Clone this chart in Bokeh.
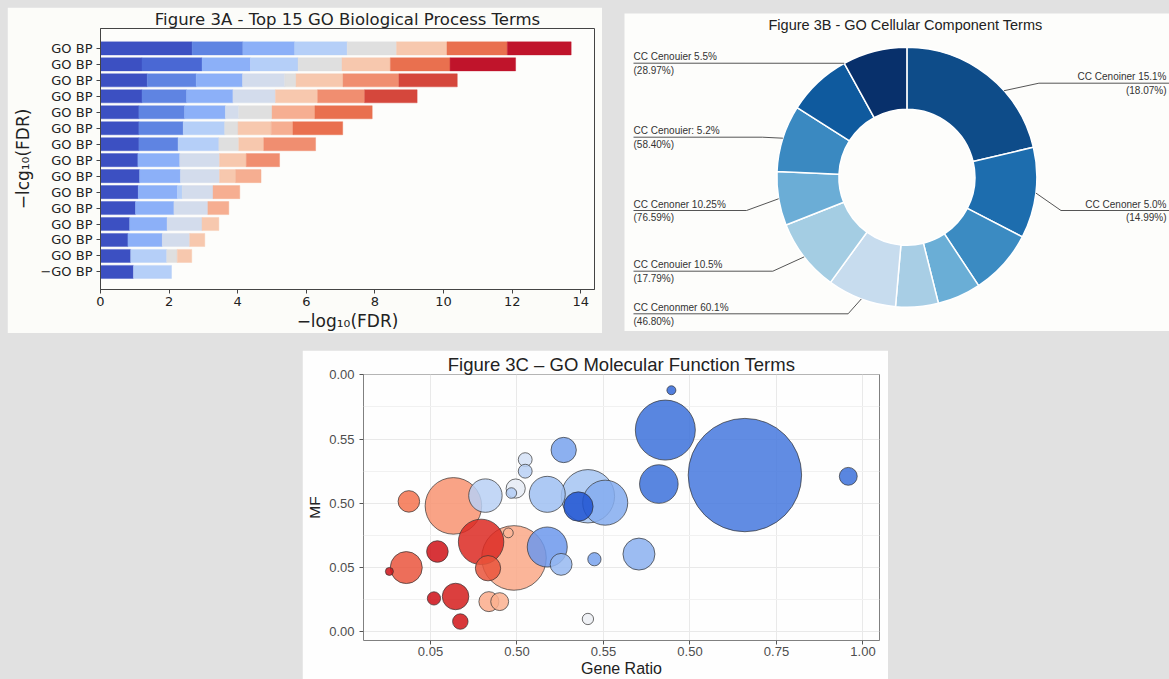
import numpy as np
from bokeh.plotting import figure
from bokeh.layouts import column, row
from bokeh.models import Range1d, FixedTicker, Spacer, ColumnDataSource, LinearColorMapper
from bokeh.core.properties import value
from bokeh.embed import file_html
from bokeh.resources import INLINE

# ---------------- Figure 3A: stacked -log10(FDR) per GO BP term ----------------
bp_terms = ["GO BP"] * 14 + ["−GO BP"]
# cumulative -log10(FDR) at the right end of each stacked segment
bp_segment_ends = [
    [2.67, 4.15, 5.66, 7.19, 8.63, 10.10, 11.86, 13.72],
    [1.21, 2.96, 4.37, 5.76, 7.04, 8.45, 10.19, 12.10],
    [1.36, 2.79, 4.14, 5.37, 5.70, 7.07, 8.70, 10.40],
    [1.21, 2.51, 3.86, 5.10, 6.33, 7.70, 9.23],
    [1.12, 2.45, 3.64, 4.03, 5.00, 6.25, 7.92],
    [1.12, 2.41, 3.62, 4.01, 4.98, 5.61, 7.06],
    [1.12, 2.26, 3.45, 4.03, 4.76, 6.27],
    [1.09, 2.31, 3.47, 4.25, 5.22],
    [1.14, 2.33, 3.47, 3.94, 4.68],
    [1.10, 2.24, 2.38, 3.28, 4.06],
    [1.02, 2.14, 3.13, 3.74],
    [0.85, 1.94, 2.96, 3.45],
    [0.80, 1.80, 2.60, 3.04],
    [0.88, 1.93, 2.24, 2.66],
    [0.96, 2.07],
]
# colour level of each segment (index into the diverging palette)
bp_segment_levels = [
    [0, 2, 3, 4, 6, 7, 10, 12],
    [0, 1, 3, 4, 6, 7, 10, 12],
    [0, 2, 3, 5, 6, 7, 9, 11],
    [0, 2, 3, 5, 7, 9, 11],
    [0, 2, 3, 5, 6, 8, 10],
    [0, 2, 4, 6, 7, 8, 10],
    [0, 2, 4, 6, 7, 9],
    [0, 3, 5, 7, 9],
    [0, 3, 5, 7, 8],
    [0, 3, 4, 5, 8],
    [0, 3, 5, 8],
    [0, 3, 5, 7],
    [0, 3, 5, 7],
    [0, 4, 6, 7],
    [0, 4],
]
bp_palette = ["#3c50c2", "#4a68d4", "#5f84e2", "#8cb0f8", "#b5cff8", "#d3dcec", "#dfdfdf",
              "#f7c8ae", "#f6ae91", "#f08e70", "#e9704f", "#d5473c", "#c0142b"]
bp_x_ticks = [0, 2, 4, 6, 8, 10, 12, 14]

# ---------------- Figure 3B: GO cellular component shares ----------------
cc_share = [21.3, 11.3, 8.1, 5.4, 5.3, 8.6, 9.0, 6.7, 8.3, 8.0, 8.0]
cc_colors = ["#0e4c89", "#1d6dae", "#3b8bc2", "#6aaed6", "#a8cee5", "#c7dcee",
             "#a4cde3", "#6badd6", "#3a89c1", "#0f5a9e", "#08306b"]
cc_label_name = ["CC Cenouier 5.5%", "CC Cenouier: 5.2%", "CC Cenoner 10.25%",
                 "CC Cenouier 10.5%", "CC Cenonmer 60.1%", "CC Cenoiner 15.1%", "CC Cenoner 5.0%"]
cc_label_pct = ["(28.97%)", "(58.40%)", "(76.59%)", "(17.79%)", "(46.80%)", "(18.07%)", "(14.99%)"]
cc_label_wedge = [10, 8, 7, 6, 5, 0, 1]
cc_label_frac = [0.0, 0.5, 0.5, 0.5, 0.5, 0.63, 0.5]

# ---------------- Figure 3C: GO molecular function bubbles ----------------
mf_ratio = [-0.095, -0.056, -0.050, 0.053, 0.127, 0.016, 0.008, 0.058, 0.069, 0.117,
            0.193, 0.133, 0.180, 0.135, 0.160, 0.197, 0.187, 0.219, 0.219, 0.270,
            0.308, 0.364, 0.342, 0.270, 0.302, 0.379, 0.364, 0.404, 0.482, 0.557,
            0.543, 0.528, 0.727, 0.966]
mf_value = [0.94, 1.00, 2.03, 1.96, 2.12, 1.25, 0.52, 0.55, 0.16, 1.40,
            1.15, 0.99, 1.54, 0.47, 0.47, 2.23, 2.16, 2.68, 2.50, 2.14,
            2.83, 2.11, 1.95, 1.32, 1.05, 1.13, 0.20, 2.01, 1.21, 3.76,
            3.14, 2.30, 2.44, 2.42]
mf_count = [4, 64, 29, 200, 70, 29, 11, 44, 15, 129,
            261, 40, 6, 25, 20, 23, 7, 12, 12, 81,
            40, 178, 54, 100, 30, 11, 8, 127, 64, 5,
            225, 93, 804, 20]
mf_direction = [0.95, 0.65, 0.55, 0.42, -0.20, 0.95, 0.97, 0.88, 0.93, 0.80,
                0.33, 0.66, 0.28, 0.32, 0.30, -0.03, -0.22, -0.10, -0.20, -0.30,
                -0.45, -0.28, -0.97, -0.50, -0.33, -0.45, 0.00, -0.40, -0.38, -0.85,
                -0.80, -0.80, -0.75, -0.80]
mf_x_ticks = [0.0, 0.2, 0.4, 0.6, 0.8, 1.0]
mf_x_labels = ["0.05", "0.50", "0.55", "0.50", "0.75", "1.00"]
mf_y_ticks = [0, 1, 2, 3, 4]
mf_y_labels = ["0.00", "0.05", "0.50", "0.55", "0.00"]

PAGE_BG = "#e1e1e1"

# ======================= Panel A =======================
pa = figure(width=595, height=326, output_backend="svg", toolbar_location=None,
            x_range=Range1d(0, 14.4), y_range=Range1d(15.1, -1.245),
            min_border_left=93, min_border_right=8, min_border_top=20, min_border_bottom=43,
            title="Figure 3A - Top 15 GO Biological Process Terms")
seg_left, seg_right, seg_y, seg_col = [], [], [], []
for i, (ends, levels) in enumerate(zip(bp_segment_ends, bp_segment_levels)):
    start = 0.0
    for e, lv in zip(ends, levels):
        seg_left.append(start)
        seg_right.append(e)
        seg_y.append(i)
        seg_col.append(bp_palette[lv])
        start = e
pa.hbar(y=seg_y, left=seg_left, right=seg_right, height=0.82,
        fill_color=seg_col, line_color=seg_col, line_width=0.4)

pa.background_fill_color = "#fdfdfb"
pa.border_fill_color = "#fcfcf9"
pa.outline_line_color = "#444444"
pa.grid.grid_line_color = None
pa.title.align = "center"
pa.title.text_font = "DejaVu Sans"
pa.title.text_font_size = "16.5px"
pa.title.text_font_style = "normal"
pa.title.text_color = "#222222"
pa.title.standoff = 0
pa.xaxis.ticker = FixedTicker(ticks=bp_x_ticks)
pa.yaxis.ticker = FixedTicker(ticks=list(range(len(bp_terms))))
pa.yaxis.major_label_overrides = {i: t for i, t in enumerate(bp_terms)}
pa.xaxis.axis_label = "−log₁₀(FDR)"
pa.yaxis.axis_label = "−lcg₁₀(FDR)"
for ax in (pa.xaxis[0], pa.yaxis[0]):
    ax.axis_line_color = "#444444"
    ax.major_tick_line_color = "#444444"
    ax.major_tick_out = 4
    ax.major_tick_in = 0
    ax.minor_tick_line_color = None
    ax.major_label_text_font = "DejaVu Sans"
    ax.major_label_text_font_size = "13px"
    ax.major_label_text_color = "#222222"
    ax.axis_label_text_font = "DejaVu Sans"
    ax.axis_label_text_font_size = "17px"
    ax.axis_label_text_font_style = "normal"
    ax.axis_label_text_color = "#222222"
pa.xaxis.major_label_standoff = 3
pa.xaxis.axis_label_standoff = 2
pa.yaxis.major_label_standoff = 4
pa.yaxis.axis_label_standoff = 4

# ======================= Panel B =======================
BW, BH = 545, 318
BX0, BY1 = 624, 331          # page position of the panel (left, bottom)


def bx(px):
    return px - BX0


def by(py):
    return BY1 - py


pb = figure(width=BW, height=BH, output_backend="svg", toolbar_location=None,
            x_range=Range1d(0, BW), y_range=Range1d(0, BH),
            x_axis_type=None, y_axis_type=None, min_border=0)
pb.grid.grid_line_color = None
pb.outline_line_color = None
pb.background_fill_color = "#fdfdfb"
pb.border_fill_color = "#fdfdfb"

cx, cy = bx(906.4), by(176.7)
r_in, r_out = 68, 130
share = np.array(cc_share, dtype=float)
cum = np.concatenate([[0.0], np.cumsum(share)]) / share.sum() * 2 * np.pi   # clockwise from 12 o'clock
start_ang = np.pi / 2 - cum[1:]
end_ang = np.pi / 2 - cum[:-1]
pb.annular_wedge(x=cx, y=cy, inner_radius=r_in, outer_radius=r_out,
                 start_angle=list(start_ang), end_angle=list(end_ang),
                 fill_color=cc_colors, line_color="white", line_width=1.5)

# leader lines: (side, page y of the horizontal run, page x of the elbow)
leader_layout = [("L", 62.7, None), ("L", 136.7, 761.8), ("L", 210.0, 746.0),
                 ("L", 270.7, 772.3), ("L", 313.3, 847.6),
                 ("R", 82.7, 1038.4), ("R", 210.0, 1060.5)]
xs, ys = [], []
lt_x, lt_y, lt_txt, rt_x, rt_y, rt_txt = [], [], [], [], [], []
for k, (side, ly, ex) in enumerate(leader_layout):
    w = cc_label_wedge[k]
    a = cum[w] + cc_label_frac[k] * (cum[w + 1] - cum[w])
    axp, ayp = cx + r_out * np.sin(a), cy + r_out * np.cos(a)
    if side == "L":
        if ex is None:
            xs.append([axp, bx(633)])
            ys.append([ayp, by(ly)])
        else:
            xs.append([axp, bx(ex), bx(633)])
            ys.append([ayp, by(ly), by(ly)])
        lt_x += [bx(633), bx(633)]
        lt_y += [by(ly - 6.5), by(ly + 7.3)]
        lt_txt += [cc_label_name[k], cc_label_pct[k]]
    else:
        xs.append([axp, bx(ex), bx(1185)])
        ys.append([ayp, by(ly), by(ly)])
        rt_x += [bx(1166), bx(1166)]
        rt_y += [by(ly - 6.5), by(ly + 7.3)]
        rt_txt += [cc_label_name[k], cc_label_pct[k]]
pb.multi_line(xs=xs, ys=ys, line_color="#555555", line_width=1)
label_font = value("Liberation Sans")
pb.text(x=lt_x, y=lt_y, text=lt_txt, text_font=label_font, text_font_size=value("10px"),
        text_align="left", text_baseline="middle", text_color="#333333")
pb.text(x=rt_x, y=rt_y, text=rt_txt, text_font=label_font, text_font_size=value("10px"),
        text_align="right", text_baseline="middle", text_color="#333333")
pb.text(x=[bx(905)], y=[by(24)], text=["Figure 3B - GO Cellular Component Terms"],
        text_font=value("Liberation Sans"), text_font_size=value("14.5px"),
        text_align="center", text_baseline="middle", text_color="#222222")

# ======================= Panel C =======================
pc = figure(width=586, height=329, output_backend="svg", toolbar_location=None,
            x_range=Range1d(-0.1549, 1.0382), y_range=Range1d(-0.135, 4.005),
            min_border_left=61, min_border_right=9, min_border_top=24, min_border_bottom=38,
            title="Figure 3C – GO Molecular Function Terms")

anchors = [(-1.0, "#1a4fd0"), (-0.8, "#3d72db"), (-0.5, "#6b98ec"), (-0.3, "#a0c0f2"),
           (-0.1, "#d2e1f6"), (0.0, "#eceff4"), (0.3, "#fbb090"), (0.55, "#f47450"),
           (0.8, "#dc2a22"), (1.0, "#cc0a14")]
pos = np.array([p for p, _ in anchors])
rgb = np.array([[int(c[i:i + 2], 16) for i in (1, 3, 5)] for _, c in anchors], dtype=float)
tt = np.linspace(-1, 1, 256)
pal = ["#%02x%02x%02x" % tuple(int(round(np.interp(t, pos, rgb[:, ch]))) for ch in range(3))
       for t in tt]
mapper = LinearColorMapper(palette=pal, low=-1, high=1)

order = np.argsort(-np.array(mf_count), kind="stable")
src = ColumnDataSource(dict(
    x=[mf_ratio[i] for i in order],
    y=[mf_value[i] for i in order],
    d=[mf_direction[i] for i in order],
    size=[4.0 * np.sqrt(mf_count[i]) for i in order],
))
pc.scatter(x="x", y="y", size="size", source=src,
           fill_color={"field": "d", "transform": mapper}, fill_alpha=0.85,
           line_color="#333333", line_alpha=0.7, line_width=1)

pc.background_fill_color = "#fefefe"
pc.border_fill_color = "#fefefe"
pc.outline_line_color = "#808080"
pc.xaxis.ticker = FixedTicker(ticks=mf_x_ticks)
pc.yaxis.ticker = FixedTicker(ticks=mf_y_ticks, minor_ticks=[0.5, 1.5, 2.5, 3.5])
pc.xaxis.major_label_overrides = {t: l for t, l in zip(mf_x_ticks, mf_x_labels)}
pc.yaxis.major_label_overrides = {t: l for t, l in zip(mf_y_ticks, mf_y_labels)}
pc.grid.grid_line_color = "#e9e9e9"
pc.ygrid.minor_grid_line_color = "#f1f1f1"
pc.xaxis.axis_label = "Gene Ratio"
pc.yaxis.axis_label = "MF"
for ax in (pc.xaxis[0], pc.yaxis[0]):
    ax.axis_line_color = None
    ax.major_tick_line_color = "#555555"
    ax.major_tick_out = 4
    ax.major_tick_in = 0
    ax.minor_tick_line_color = None
    ax.major_label_text_font = "Liberation Sans"
    ax.major_label_text_font_size = "13px"
    ax.major_label_text_color = "#4d4d4d"
    ax.axis_label_text_font = "Liberation Sans"
    ax.axis_label_text_font_style = "normal"
    ax.axis_label_text_color = "#222222"
pc.xaxis.axis_label_text_font_size = "16px"
pc.yaxis.axis_label_text_font_size = "15.5px"
pc.xaxis.major_label_standoff = 2
pc.xaxis.axis_label_standoff = 1
pc.yaxis.major_label_standoff = 5
pc.yaxis.axis_label_standoff = 3
pc.title.align = "center"
pc.title.text_font = "Liberation Sans"
pc.title.text_font_size = "18.5px"
pc.title.text_font_style = "normal"
pc.title.text_color = "#222222"
pc.title.standoff = 0

layout = column(
    Spacer(width=1169, height=7),
    row(Spacer(width=7, height=326), pa, Spacer(width=22, height=326),
        column(Spacer(width=BW, height=6), pb)),
    Spacer(width=1169, height=17),
    row(Spacer(width=302, height=329), pc),
    styles={"background-color": PAGE_BG},
)

open("out.html", "w").write(file_html(layout, INLINE))
